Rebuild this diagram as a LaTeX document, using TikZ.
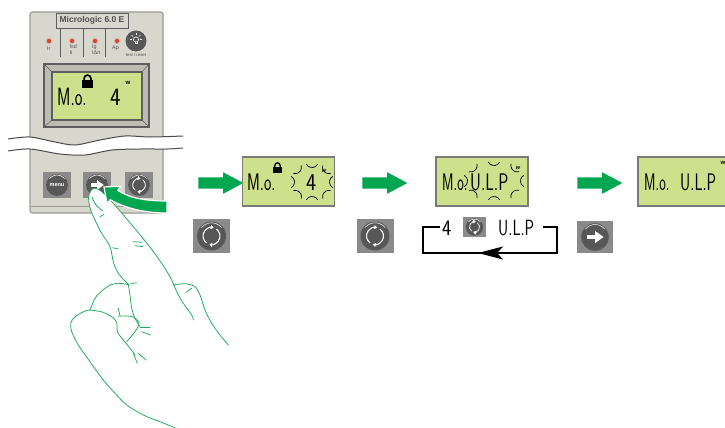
\documentclass[tikz,border=0pt]{standalone}
\usepackage{fontspec}
\setmainfont{Liberation Sans}
\usepackage{graphicx}
\usetikzlibrary{shapes.arrows,arrows.meta}

\definecolor{lcdgreen}{HTML}{CDE08C}
\definecolor{lcdedge}{HTML}{7A7A76}
\definecolor{flowgreen}{HTML}{00A650}
\definecolor{handgreen}{HTML}{1BAA55}
\definecolor{keygray}{HTML}{8A8A8A}
\definecolor{keydark}{HTML}{575757}
\definecolor{casing}{HTML}{D8D7CE}
\definecolor{casingedge}{HTML}{9C9B94}
\definecolor{bezel}{HTML}{BDBCB4}
\definecolor{bezeledge}{HTML}{5E5E5E}
\definecolor{labelgray}{HTML}{505050}
\definecolor{ledred}{HTML}{E2412C}
\definecolor{ledhalo}{HTML}{C9B9B0}
\definecolor{breakline}{HTML}{4A4A4A}

% segment-style display lettering: condensed sans
\newcommand\lcdword[2][0.65]{\scalebox{#1}[1]{\sffamily #2}}

% square key with its round dark button
\newcommand\drawkeyface{%
  \fill[keygray] (-18.5,-17) rectangle (18.5,17);
  \fill[keydark] (0,0) circle (14.5);
  \draw[white, line width=0.5pt] (40:13.2) arc (40:140:13.2);}

\tikzset{
  lcd/.style={draw=lcdedge, line width=1.4pt, fill=lcdgreen,
    minimum width=92pt, minimum height=49pt, inner sep=0pt},
  lcdtxt/.style={font=\fontsize{24}{24}\selectfont, inner sep=0pt, anchor=base west},
  unitmark/.style={font=\bfseries\fontsize{6}{6}\selectfont, inner sep=0pt},
  tinylabel/.style={font=\fontsize{5.4}{6}\selectfont, inner sep=0pt, text=labelgray},
  flowarrow/.style={single arrow, fill=flowgreen, draw=none, inner sep=0pt,
    text height=5.5pt, text depth=5.5pt, minimum height=45pt,
    single arrow head extend=5pt, single arrow tip angle=56},
  handline/.style={handgreen, line width=0.75pt, line cap=round, line join=round},
  wave/.style={breakline, line width=1pt},
  rotatekey/.pic={
    \begin{scope}[scale=#1, yscale=-1]
      \drawkeyface
      \draw[white, line width={1.1pt*#1}, -{Triangle[length=3pt,width=4pt]}] (235:8.5) arc (235:75:8.5);
      \draw[white, line width={1.1pt*#1}, -{Triangle[length=3pt,width=4pt]}] (55:8.5) arc (55:-105:8.5);
    \end{scope}},
  enterkey/.pic={
    \begin{scope}[scale=#1, yscale=-1]
      \drawkeyface
      \fill[white] (-8.5,-2.3) rectangle (1,2.3);
      \fill[white] (0,-6.5) -- (9,0) -- (0,6.5) -- cycle;
    \end{scope}},
  menukey/.pic={
    \begin{scope}[scale=#1, yscale=-1]
      \drawkeyface
    \end{scope}
    \node[text=white, font=\bfseries\fontsize{5.5}{6}\selectfont, inner sep=0pt] at (0,0) {menu};},
  padlock/.pic={
    \begin{scope}[scale=#1, yscale=-1]
      \fill (-5.5,-4) rectangle (5.5,4);
      \draw[line width={1.7pt*#1}] (-3.4,4) -- (-3.4,5.5) arc (180:0:3.4) -- (3.4,4);
    \end{scope}}
}

% eight short flashing strokes around a blinking field
\newcommand\blinkrays[3]{%
  \begin{scope}[shift={#1}, yscale=-1]
    \foreach \a in {0,45,...,315}
      \draw[line width=0.7pt] ({(#2+6)*cos(\a)},{(#3+6)*sin(\a)}) ++(\a+120:6.5) arc (\a+120:\a+240:6.5);
  \end{scope}}

\begin{document}
\begin{tikzpicture}[x=1pt, y=-1pt]
\useasboundingbox (0,0) rectangle (725,428);
\clip (0,0) rectangle (725,428);

% ---------- trip unit casing ----------
\draw[casingedge, line width=1.2pt, fill=casing, rounded corners=2.5pt] (30,12) rectangle (163,213);
\draw[casingedge, line width=0.6pt] (31,206) -- (162,206);

\node[draw=bezeledge, line width=0.8pt, fill=casing, minimum width=72pt, minimum height=15pt,
      inner sep=0pt, text=labelgray, font=\bfseries\fontsize{8.5}{9}\selectfont] (model) at (92,20.5) {Micrologic 6.0 E};
\foreach \x in {60,83,105} \draw[bezeledge, line width=0.8pt] (\x,28) -- (\x,57);

% setting LEDs
\foreach \x in {49,72,95,117} {
  \fill[ledhalo] (\x,41) circle (3.2);
  \fill[ledred] (\x,41) circle (2.1);
}
\node[tinylabel, anchor=west] (lIr)  at (47,48.5) {Ir};
\node[tinylabel, anchor=west] (lIsd) at (69.5,47) {Isd};
\node[tinylabel, anchor=west] (lIi)  at (69.5,52.5) {Ii};
\node[tinylabel, anchor=west] (lIg)  at (92,47) {Ig};
\node[tinylabel, anchor=west] (lIdn) at (92,52.5) {IΔn};
\node[tinylabel, anchor=west] (lAp)  at (112,48) {Ap};

% test / reset button
\fill[keydark] (136,41) circle (10.5);
\begin{scope}[shift={(136,39.5)}]
  \draw[white, line width=0.6pt] (0,0) circle (2.6);
  \draw[white, line width=0.6pt] (-1.2,2.4) -- (-1.2,4.2) -- (1.2,4.2) -- (1.2,2.4);
  \foreach \a in {0,-45,-90,-135,180} \draw[white, line width=0.6pt] (\a:4.2) -- (\a:6.2);
\end{scope}
\node[tinylabel, font=\fontsize{4.3}{4.5}\selectfont] (ltest) at (136,54.5) {test / reset};

% display bezel and screen
\draw[bezeledge, line width=1.2pt, fill=bezel] (44,64) rectangle (149,127);
\draw[bezeledge, line width=0.5pt] (44,64) -- (52,72) (149,64) -- (142,72) (44,127) -- (52,120) (149,127) -- (142,120);
\node[lcd, minimum width=90pt, minimum height=48pt, draw=bezeledge] (lcdA) at (97,96) {};
\pic at (87.5,84) {padlock=1};
\node[lcdtxt, font=\fontsize{25}{25}\selectfont] (aMo) at (57,105) {\lcdword{M.o.}};
\node[lcdtxt, font=\fontsize{25}{25}\selectfont] (aVal) at (110,105) {\lcdword[0.9]{4}};
\node[unitmark] (aW) at (128,83) {w};

% cut-away break of the casing
\fill[white] plot[smooth] coordinates {(4,139) (30,137) (55,142) (75,145) (100,140) (125,136) (150,137) (187,136)}
  -- plot[smooth] coordinates {(187,148) (167,149) (140,149) (112,150) (85,155) (60,154) (30,149) (4,151)} -- cycle;
\draw[wave] plot[smooth] coordinates {(8,139) (30,137) (55,142) (75,145) (100,140) (125,136) (150,137) (183,136)};
\draw[wave] plot[smooth] coordinates {(8,151) (30,149) (60,154) (85,155) (112,150) (140,149) (167,149) (183,148)};

% keypad
\pic (kmenu) at (57,185) {menukey=0.75};
\pic (kenter) at (97,185) {enterkey=0.75};
\pic (krot) at (139,185) {rotatekey=0.75};

% ---------- hand ----------
\fill[white] plot[smooth, tension=0.6] coordinates {(128.3,284.3) (118.3,273.3) (113.3,261.7) (110,246.7) (101.7,233.3) (95,220) (90.7,210) (88.5,198) (91,190.5) (95,188.3) (101.7,191.7) (111.7,201.7) (120,211) (133.3,226.7) (148.3,245) (161.7,263.3) (171.7,280) (176.7,291.7)} -- cycle;
\draw[handline] plot[smooth, tension=0.6] coordinates {(128.3,284.3) (118.3,273.3) (113.3,261.7) (110,246.7) (101.7,233.3) (95,220) (90.7,210) (88.5,198) (91,190.5) (95,188.3) (101.7,191.7) (111.7,201.7) (120,211) (133.3,226.7) (148.3,245) (161.7,263.3) (171.7,280) (176.7,291.7) (183.3,303.3) (191.7,315) (193.3,320)};
\draw[handline] plot[smooth] coordinates {(92,197) (96,205) (103,211)};
\draw[handline] plot[smooth] coordinates {(173.3,285) (185,283.7) (195,286.7) (200,295) (205,310) (211.7,323.3) (220,335) (228.3,345)};
\draw[handline] (186,292.3) -- (191.7,288.3);
\draw[handline] plot[smooth] coordinates {(128.3,284.3) (130,295) (131.7,308.3) (135,318.3) (140,326.7)};
\draw[handline] plot[smooth] coordinates {(110,285) (118,283.3) (128,284.5)};
\draw[handline] plot[smooth] coordinates {(110,285) (101.7,291) (95,298.3) (90,310)};
\draw[handline] plot[smooth] coordinates {(90,310) (103.3,312.3) (114,318.5) (117,324) (117.3,331.7) (123.3,340) (130,348.3) (135,355)};
\draw[handline] plot[smooth] coordinates {(90,310) (85,311) (75,316.7) (70.7,323.3) (71.7,331.7) (78.3,345) (90,361.7) (103.3,380) (115,393.3) (126.7,405) (143.3,415) (160,421.7) (175,427.7)};
\draw[handline] plot[smooth] coordinates {(118.3,316) (126,316) (133.3,317) (139,323) (135,331.7) (126.7,341.7)};
\draw[handline] (118.3,308.3) -- (120,315.7);
\draw[handline] (140,327) -- (150,327);
\draw[handline] (141.7,331.7) -- (150.7,335);
\draw[handline] (133.3,353.3) -- (137.3,363.3);
\draw[handline] (138.3,353.3) -- (146,360);
\draw[handline] (100,216.7) -- (104,214.3);
\draw[handline] (112.7,247.7) -- (118.3,249);
\draw[handline] (133.3,241.7) -- (141.7,242.3);
\draw[handline] (135,245.7) -- (143.3,246.7);
\draw[handline] (130.7,283.3) -- (136.7,283);

% press gesture
\filldraw[fill=flowgreen, draw=white, line width=1.2pt, line join=round]
  (167,201) .. controls (142,201) and (128,197) .. (117.75,190.3)
  -- (120.9,186.4) -- (103.9,186.9) -- (107.1,203.6) -- (110.25,199.7)
  .. controls (123,207) and (142,213) .. (167,213) -- cycle;

% ---------- sequence ----------
\node[flowarrow] (arrowA) at (215.5,183) {};
\node[flowarrow] (arrowB) at (379.5,183) {};
\node[flowarrow] (arrowC) at (594.5,183) {};

\pic (rotA) at (211.5,236) {rotatekey=1};
\pic (rotB) at (375,236) {rotatekey=1};
\pic (entC) at (595,237) {enterkey=0.95};

% step 1: locked value blinking
\node[lcd] (lcdB) at (288.5,181.5) {};
\pic at (277.5,170) {padlock=0.8};
\node[lcdtxt] (bMo) at (247,190) {\lcdword{M.o.}};
\node[lcdtxt] (bVal) at (306,190) {\lcdword[0.9]{4}};
\node[unitmark, font=\bfseries\itshape\fontsize{5.5}{6}\selectfont] (bW) at (324,171) {w};
\blinkrays{(312,182)}{18}{15}

% step 2: new value blinking
\node[lcd] (lcdC) at (482,181.5) {};
\node[lcdtxt] (cMo) at (442,190) {\lcdword[0.58]{M.o.}};
\node[lcdtxt] (cVal) at (470,190) {\lcdword[0.7]{U.L.P}};
\node[unitmark, font=\bfseries\itshape\fontsize{5.5}{6}\selectfont] (cW) at (518,168) {w};
\blinkrays{(494,181)}{27}{16}

% choice loop
\node[lcdtxt, font=\fontsize{22}{22}\selectfont] (loopA) at (442,235) {\lcdword[0.9]{4}};
\pic (loopKey) at (474.5,227) {rotatekey=0.6};
\node[lcdtxt, font=\fontsize{22}{22}\selectfont] (loopB) at (498,235) {\lcdword[0.72]{U.L.P}};
\coordinate (loopStart) at (543,227);
\coordinate (loopNE) at (557,227);
\coordinate (loopSE) at (557,253);
\coordinate (loopSW) at (423,253);
\coordinate (loopNW) at (423,227);
\coordinate (loopEnd) at (440,227);
\coordinate (tipFrom) at (505,253);
\coordinate (tipTo) at (478,253);
\draw[line width=1.5pt, line join=miter] (loopStart) -- (loopNE) -- (loopSE) -- (loopSW) -- (loopNW) -- (loopEnd);
\draw[line width=1.5pt, -{Stealth[length=25pt,width=13pt,inset=6pt]}] (tipFrom) -- (tipTo);

% step 3: value confirmed
\node[lcd] (lcdD) at (684,181.5) {};
\node[lcdtxt] (dMo) at (644,190) {\lcdword[0.58]{M.o.}};
\node[lcdtxt] (dVal) at (680,190) {\lcdword[0.66]{U.L.P}};
\node[unitmark] (dW) at (723,163) {w};
\end{tikzpicture}
\end{document}
